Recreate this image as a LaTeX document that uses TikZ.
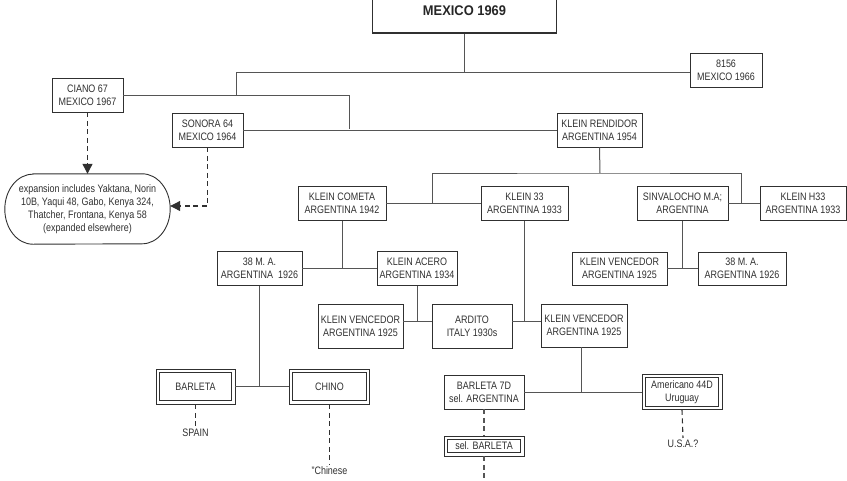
\documentclass[tikz,border=0pt]{standalone}
\usepackage{fontspec}
\setmainfont{Liberation Sans}[FakeStretch=0.83]
\newfontfamily\titlefont{Liberation Sans}[FakeStretch=0.92]
\usetikzlibrary{arrows.meta}
\definecolor{inkgray}{HTML}{303030}
\definecolor{linegray}{HTML}{555555}

\begin{document}
\begin{tikzpicture}[x=1pt,y=-1pt,font=\fontsize{10.8}{13}\selectfont,text=inkgray]
    \tikzstyle{block} = [rectangle, draw=inkgray, line width=0.9pt, align=center, inner sep=1pt, minimum height=34pt]
    \tikzstyle{dblock} = [block, minimum height=35pt, path picture={\draw [inkgray, line width=0.9pt] ([shift={(3.2pt,-3.2pt)}]path picture bounding box.north west) rectangle ([shift={(-3.2pt,3.2pt)}]path picture bounding box.south east);}]
    \tikzstyle{place} = [inner sep=2pt, align=center]
    \tikzstyle{line} = [draw=linegray, line width=1pt]
    \tikzstyle{dline} = [draw=inkgray, line width=1.1pt, dash pattern=on 5pt off 3.5pt]
    \tikzstyle{arrow} = [dline, -{Triangle[width=10pt,length=10pt]}]
    \useasboundingbox (0,0) rectangle (847,480);

    \node (mex) [block, line width=1.6pt, minimum width=184pt, minimum height=44pt, text=black!85, font=\titlefont\fontsize{14}{16}\selectfont\bfseries] at (464.5,11) {MEXICO 1969};
    \node (n8156) [block, minimum width=72pt] at (726,70) {8156\\ MEXICO 1966};
    \node (ciano) [block, minimum width=71pt] at (87.5,95) {CIANO 67\\ MEXICO 1967};
    \node (sonora) [block, minimum width=71pt] at (207.5,130) {SONORA 64\\ MEXICO 1964};
    \node (rendidor) [block, minimum width=85pt] at (599.5,130) {KLEIN RENDIDOR\\ ARGENTINA 1954};
    \node (expn) [place, minimum width=165pt, minimum height=70pt] at (87.5,209) {expansion includes Yaktana, Norin\\ 10B, Yaqui 48, Gabo, Kenya 324,\\ Thatcher, Frontana, Kenya 58\\ (expanded elsewhere)};
    \node (cometa) [block, minimum width=88pt] at (342,203.5) {KLEIN COMETA\\ ARGENTINA 1942};
    \node (k33) [block, minimum width=87pt] at (524.5,203.5) {KLEIN 33\\ ARGENTINA 1933};
    \node (sinval) [block, minimum width=91pt] at (682.5,203.5) {SINVALOCHO M.A;\\ ARGENTINA};
    \node (h33) [block, minimum width=86pt] at (803,203.5) {KLEIN H33\\ ARGENTINA 1933};
    \node (ma38l) [block, minimum width=85pt] at (259.5,268.5) {38 M. A.\\ ARGENTINA~ 1926};
    \node (acero) [block, minimum width=80pt] at (417,268.5) {KLEIN ACERO\\ ARGENTINA 1934};
    \node (vencr) [block, minimum width=95pt, minimum height=33pt] at (619.5,268.5) {KLEIN VENCEDOR\\ ARGENTINA 1925};
    \node (ma38r) [block, minimum width=88pt, minimum height=33pt] at (742,268.5) {38 M. A.\\ ARGENTINA 1926};
    \node (vencl) [block, minimum width=85pt, minimum height=44pt] at (360.5,326) {KLEIN VENCEDOR\\ ARGENTINA 1925};
    \node (ardito) [block, minimum width=80pt, minimum height=44pt] at (472,326) {ARDITO\\ ITALY 1930s};
    \node (vencm) [block, minimum width=86pt, minimum height=43pt] at (584,325.5) {KLEIN VENCEDOR\\ ARGENTINA 1925};
    \node (barleta) [dblock, minimum width=79pt] at (195.5,386.5) {BARLETA};
    \node (chino) [dblock, minimum width=80pt] at (329.5,386.5) {CHINO};
    \node (b7d) [block, minimum width=80pt] at (484,392) {BARLETA 7D\\ sel. ARGENTINA};
    \node (amer) [dblock, minimum width=80pt] at (682,392) {Americano 44D\\ Uruguay};
    \node (selb) [dblock, minimum width=80pt, minimum height=20pt] at (484,446) {sel. BARLETA};
    \node (spain) [place] at (195.5,433) {SPAIN};
    \node (china) [place] at (329.5,471) {"Chinese};
    \node (usa) [place] at (683,444) {U.S.A.?};

    % outline of the expansion note
    \draw [draw=inkgray, line width=0.9pt] ([xshift=28pt]expn.north west) -- ([xshift=-28pt]expn.north east)
        arc[start angle=90, end angle=-90, x radius=28pt, y radius=35pt] -- ([xshift=28pt]expn.south west)
        arc[start angle=270, end angle=90, x radius=28pt, y radius=35pt] -- cycle;

    \coordinate (jtop) at (236,72);
    \coordinate (jcia) at (349,129);
    \coordinate (jrend) at (600,173);
    \coordinate (jleft) at (432,203.5);
    \coordinate (jright) at (741,203.5);
    \coordinate (jard) at (0,321);
    \coordinate (jvm) at (581,392);
    \coordinate (selbend) at (484,490);

    \draw [line] (mex.south) -- (mex.south |- jtop);
    \draw [line] (jtop |- ciano.east) -- (jtop) -- (jtop -| n8156.west);
    \draw [line] (ciano.east) -| (jcia);
    \draw [line] (sonora.east) -- (rendidor.west);
    \draw [line] (rendidor.south) -- (jrend);
    \draw [line] (jleft) |- (jrend) -| (jright);
    \draw [line] (cometa.east) -- (k33.west);
    \draw [line] (sinval.east) -- (h33.west);
    \draw [line] (ma38l.east) -- (acero.west);
    \draw [line] (cometa.south) -- (cometa.south |- acero.west);
    \draw [line] (vencl.east |- jard) -- (ardito.west |- jard);
    \draw [line] (acero.south) -- (acero.south |- jard);
    \draw [line] (ardito.east |- jard) -- (vencm.west |- jard);
    \draw [line] (k33.south) -- (k33.south |- jard);
    \draw [line] (vencr.east) -- (ma38r.west);
    \draw [line] (sinval.south) -- (sinval.south |- ma38r.west);
    \draw [line] (barleta.east) -- (chino.west);
    \draw [line] (ma38l.south) -- (ma38l.south |- chino.west);
    \draw [line] (b7d.east) -- (amer.west);
    \draw [line] (vencm.south -| jvm) -- (jvm);

    \draw [arrow] (ciano.south) -- (expn.north);
    \draw [arrow] (sonora.south) |- ([yshift=3pt]expn.east);
    \draw [dline] (barleta.south) -- (spain.north);
    \draw [dline] (chino.south) -- (china.north);
    \draw [dline] (amer.south) -- (usa.north);
    \draw [dline, draw=linegray] (b7d.south) -- (selb.north);
    \draw [dline, draw=linegray] (selb.south) -- (selbend);

\end{tikzpicture}
\end{document}
